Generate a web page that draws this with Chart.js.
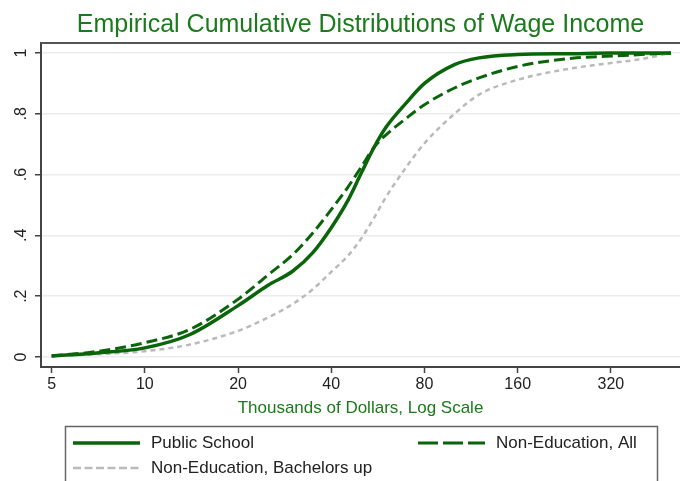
<!DOCTYPE html>
<html>
<head>
<meta charset="utf-8">
<script src="https://cdn.jsdelivr.net/npm/chart.js@4.4.1/dist/chart.umd.min.js"></script>
<style>
  html, body { margin: 0; padding: 0; background: #fff; }
</style>
</head>
<body>
<canvas id="chart" width="680" height="481"></canvas>
<script>
// wage income, thousands of dollars (log scale)
const incomeK = [5, 7, 10, 14, 20, 25, 30, 35, 40, 45, 50, 55, 60, 70, 80, 100, 120, 160, 240, 320, 400, 500];
// cumulative shares
const publicSchool   = [0.003, 0.013, 0.030, 0.074, 0.169, 0.236, 0.282, 0.345, 0.425, 0.510, 0.605, 0.690, 0.755, 0.837, 0.900, 0.962, 0.984, 0.995, 0.998, 1.000, 1.000, 1.000];
const nonEdAll       = [0.003, 0.018, 0.047, 0.091, 0.190, 0.270, 0.336, 0.410, 0.485, 0.555, 0.625, 0.690, 0.730, 0.786, 0.830, 0.885, 0.918, 0.956, 0.983, 0.990, 0.995, 1.000];
const nonEdBachelors = [0.003, 0.009, 0.019, 0.041, 0.086, 0.130, 0.174, 0.224, 0.280, 0.330, 0.390, 0.458, 0.525, 0.626, 0.703, 0.800, 0.863, 0.912, 0.950, 0.967, 0.980, 1.000];

const seriesNames = ['Public School', 'Non-Education, All', 'Non-Education, Bachelors up'];
const xTicks = [5, 10, 20, 40, 80, 160, 320];
const yTicks = [0, 0.2, 0.4, 0.6, 0.8, 1];
const yTickLabels = ['0', '.2', '.4', '.6', '.8', '1'];

const GREEN = '#0a650a';
const TEXT_GREEN = '#1b7a1b';
const GRAY = '#bababa';
const FONT = "'Liberation Sans', Arial, sans-serif";

const toPoints = (vals) => incomeK.map((x, i) => ({ x: x, y: vals[i] }));

// Stata-like extras: top frame, rotated y labels, boxed legend
const stataBits = {
  id: 'stataBits',
  afterDraw(chart) {
    const ctx = chart.ctx;
    const area = chart.chartArea;
    const yScale = chart.scales.y;

    ctx.save();
    ctx.strokeStyle = '#555';
    ctx.lineWidth = 2;
    ctx.beginPath();
    ctx.moveTo(area.left, area.top);
    ctx.lineTo(area.right, area.top);
    ctx.stroke();

    ctx.fillStyle = '#222';
    ctx.font = '16px ' + FONT;
    ctx.textAlign = 'center';
    ctx.textBaseline = 'middle';
    yTicks.forEach((v, i) => {
      ctx.save();
      ctx.translate(22, yScale.getPixelForValue(v));
      ctx.rotate(-Math.PI / 2);
      ctx.fillText(yTickLabels[i], 0, 0);
      ctx.restore();
    });

    // legend box
    ctx.strokeStyle = '#666';
    ctx.lineWidth = 1.5;
    ctx.strokeRect(65.5, 426.5, 592, 80);

    const items = [
      { ds: 0, x: 73, y: 443, dash: [] },
      { ds: 1, x: 418, y: 443, dash: [20, 5] },
      { ds: 2, x: 73, y: 468, dash: [8, 3.5] }
    ];
    ctx.textAlign = 'left';
    ctx.font = '17px ' + FONT;
    items.forEach(it => {
      const ds = chart.data.datasets[it.ds];
      ctx.strokeStyle = ds.borderColor;
      ctx.lineWidth = ds.borderWidth;
      ctx.setLineDash(it.dash);
      ctx.beginPath();
      ctx.moveTo(it.x, it.y);
      ctx.lineTo(it.x + 67, it.y);
      ctx.stroke();
      ctx.setLineDash([]);
      ctx.fillStyle = '#222';
      ctx.fillText(ds.label, it.x + 78, it.y);
    });
    ctx.restore();
  }
};

new Chart(document.getElementById('chart'), {
  type: 'line',
  data: {
    datasets: [
      {
        label: seriesNames[0],
        data: toPoints(publicSchool),
        borderColor: GREEN,
        borderWidth: 3.5,
        pointRadius: 0,
        cubicInterpolationMode: 'monotone'
      },
      {
        label: seriesNames[1],
        data: toPoints(nonEdAll),
        borderColor: GREEN,
        borderWidth: 3,
        borderDash: [11, 5],
        pointRadius: 0,
        cubicInterpolationMode: 'monotone'
      },
      {
        label: seriesNames[2],
        data: toPoints(nonEdBachelors),
        borderColor: GRAY,
        borderWidth: 2.5,
        borderDash: [5, 4],
        pointRadius: 0,
        cubicInterpolationMode: 'monotone'
      }
    ]
  },
  options: {
    responsive: false,
    animation: false,
    layout: { padding: 0 },
    plugins: {
      legend: { display: false },
      tooltip: { enabled: false },
      title: {
        display: true,
        text: 'Empirical Cumulative Distributions of Wage Income',
        color: TEXT_GREEN,
        fullSize: false,
        font: { family: FONT, size: 25, weight: 'normal' },
        padding: { top: 10, bottom: 3 }
      }
    },
    scales: {
      x: {
        type: 'logarithmic',
        min: 4.62,
        max: 535,
        afterBuildTicks: (s) => { s.ticks = xTicks.map(v => ({ value: v })); },
        afterFit: (s) => { s.height = 114; },
        ticks: {
          autoSkip: false,
          maxRotation: 0,
          padding: 2,
          color: '#222',
          font: { family: FONT, size: 16 },
          callback: (v) => String(v)
        },
        grid: { drawOnChartArea: false, drawTicks: true, tickLength: 6, tickColor: '#444', tickWidth: 1.5 },
        border: { color: '#444', width: 2 },
        title: {
          display: true,
          text: 'Thousands of Dollars, Log Scale',
          color: TEXT_GREEN,
          font: { family: FONT, size: 17 },
          padding: { top: 0, bottom: 62 }
        }
      },
      y: {
        type: 'linear',
        min: -0.033,
        max: 1.033,
        afterBuildTicks: (s) => { s.ticks = yTicks.map(v => ({ value: v })); },
        afterFit: (s) => { s.width = 41; },
        ticks: { display: false },
        grid: { color: '#ececec', lineWidth: 1.5, drawTicks: true, tickLength: 6, tickColor: '#444', tickWidth: 1.5 },
        border: { color: '#444', width: 2 }
      }
    }
  },
  plugins: [stataBits]
});
</script>
</body>
</html>
